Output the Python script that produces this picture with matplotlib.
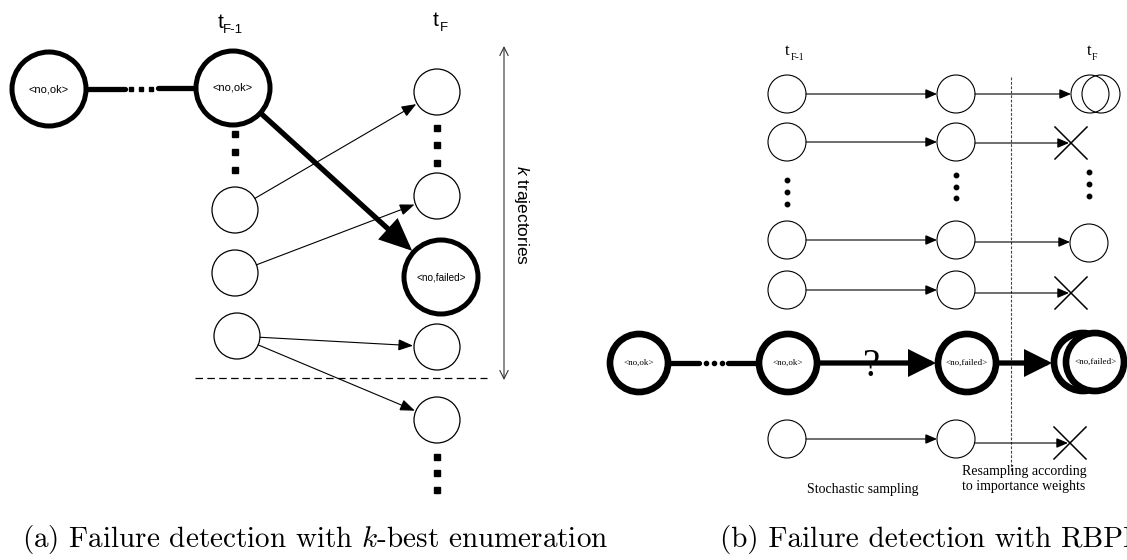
import numpy as np
import matplotlib.pyplot as plt
from matplotlib.patches import Circle, FancyArrowPatch

plt.rcParams['mathtext.fontset'] = 'custom'
plt.rcParams['mathtext.rm'] = 'Liberation Sans'
plt.rcParams['mathtext.it'] = 'Liberation Sans:italic'

SANS = 'Liberation Sans'
SERIF = 'Liberation Serif'

# ---- panel (a): k-best enumeration (pixel coordinates, y downwards) ----
a_bold_nodes = [(49, 89), (233, 88)]
a_bold_labels = ['<no,ok>', '<no,ok>']
a_failed_node = (441, 277)
a_left_nodes = [(235, 210), (235, 273), (237, 336)]
a_right_nodes = [(437, 92), (437, 196), (437, 347), (437, 420)]
a_edges = [(0, 0), (1, 1), (2, 2), (2, 3)]   # left node -> right node
a_left_dots_y = [134, 152, 170]
a_right_dots_y = [128, 145, 163]
a_bottom_dots_y = [457, 473, 490]

# ---- panel (b): RBPF ----
b_col_x = [787, 956]
b_rows_y = [94, 142, 240, 290, 439]
b_col3_circles = [(1090, 94), (1101, 94), (1089, 243)]
b_crosses = [(1071, 143), (1071, 293), (1070, 443)]
b_bold_nodes = [(639, 363), (788, 363), (967, 363)]
b_bold_labels = ['<no,ok>', '<no,ok>', '<no,failed>']
b_final_nodes = [(1083, 362), (1095, 362)]
b_dots_x = [787, 956, 1089]
b_dots_y = [[180, 192, 204], [175, 187, 198], [172, 184, 196]]


def edge(p, q, rp, rq):
    p, q = np.array(p, float), np.array(q, float)
    u = (q - p) / np.linalg.norm(q - p)
    return p + rp * u, q - rq * u


def arrow(ax, p, q, lw, hl, hw, color='black'):
    ax.add_patch(FancyArrowPatch(
        tuple(p), tuple(q),
        arrowstyle=f'-|>,head_length={hl},head_width={hw}',
        lw=lw, color=color, shrinkA=0, shrinkB=0, mutation_scale=1,
        joinstyle='miter', zorder=3))


fig = plt.figure(figsize=(11.27, 5.6), dpi=100)
ax = fig.add_axes([0, 0, 1, 1])
ax.set_xlim(0, 1127)
ax.set_ylim(560, 0)
ax.axis('off')

# ===== panel (a) =====
R_BIG, R_SMALL = 37, 23
for (x, y), lab in zip(a_bold_nodes, a_bold_labels):
    ax.add_patch(Circle((x, y), R_BIG, fill=False, lw=3.6, ec='black'))
    ax.text(x, y, lab, ha='center', va='center', fontsize=8, family=SANS)
ax.add_patch(Circle(a_failed_node, R_BIG, fill=False, lw=3.6, ec='black'))
ax.text(a_failed_node[0], a_failed_node[1] + 1, '<no,failed>', ha='center',
        va='center', fontsize=7.2, family=SANS)
for x, y in a_left_nodes + a_right_nodes:
    ax.add_patch(Circle((x, y), R_SMALL, fill=False, lw=0.9, ec='black'))

# bold chain with dots
(x0, y0), (x1, y1) = a_bold_nodes
ax.plot([x0 + R_BIG + 2, 125], [y0, y0], color='black', lw=3.8,
        solid_capstyle='round')
ax.plot([158, x1 - R_BIG - 2], [y1, y1], color='black', lw=3.8,
        solid_capstyle='round')
ax.plot([131, 141, 151], [88.5] * 3, 's', color='black', ms=3)

for ys, x in [(a_left_dots_y, 235), (a_right_dots_y, 437),
              (a_bottom_dots_y, 437)]:
    ax.plot([x] * len(ys), ys, 's', color='black', ms=5)

for i, j in a_edges:
    p, q = edge(a_left_nodes[i], a_right_nodes[j], R_SMALL, R_SMALL + 1)
    arrow(ax, p, q, 0.8, 9, 3.5)
p, q = edge(a_bold_nodes[1], a_failed_node, R_BIG + 2, R_BIG + 2)
arrow(ax, p, q, 3.8, 17, 7.5)

ax.plot([195, 487], [378, 378], color='black', lw=0.9, dashes=(6, 3.5))
ax.add_patch(FancyArrowPatch((504, 46), (504, 380), arrowstyle='<->,head_length=6,head_width=3',
                             mutation_scale=1, lw=0.8, color='#333333',
                             shrinkA=0, shrinkB=0))
ax.text(522, 215, r'$k$ trajectories', rotation=-90, ha='center', va='center',
        fontsize=12.5, family=SANS)

ax.text(221, 22, 't', fontsize=15, family=SANS, ha='center', va='center')
ax.text(233, 30, 'F-1', fontsize=9.5, family=SANS, ha='center', va='center')
ax.text(436, 20, 't', fontsize=15, family=SANS, ha='center', va='center')
ax.text(444, 28, 'F', fontsize=9.5, family=SANS, ha='center', va='center')

# ===== panel (b) =====
r = 19
for k, y in enumerate(b_rows_y):
    for x in b_col_x:
        ax.add_patch(Circle((x, y), r, fill=False, lw=0.8, ec='black'))
    arrow(ax, (b_col_x[0] + r, y), (b_col_x[1] - r, y), 0.8, 7, 3)
for x, y in b_col3_circles:
    ax.add_patch(Circle((x, y), r, fill=False, lw=0.8, ec='black',
                        fc='white', zorder=2))
# col2 -> col3 arrows
arrow(ax, (b_col_x[1] + r, b_rows_y[0]), (b_col3_circles[0][0] - r, b_rows_y[0]), 0.8, 7, 3)
arrow(ax, (b_col_x[1] + r, b_rows_y[2] + 2), (b_col3_circles[2][0] - r, b_rows_y[2] + 2), 0.8, 7, 3)
for cx, cy in b_crosses:
    arrow(ax, (b_col_x[1] + r, cy), (cx - 2, cy), 0.8, 7, 3)
    d = 16
    ax.plot([cx - d, cx + d], [cy - d, cy + d], color='black', lw=1.1)
    ax.plot([cx - d, cx + d], [cy + d, cy - d], color='black', lw=1.1)

for x, ys in zip(b_dots_x, b_dots_y):
    ax.plot([x] * len(ys), ys, 'o', color='black', ms=3.2)

ax.plot([1011, 1011], [77, 471], color='#444444', lw=0.8, dashes=(2.5, 1.5))

# bold row
RB = 29
for (x, y), lab in zip(b_bold_nodes, b_bold_labels):
    ax.add_patch(Circle((x, y), RB, fill=False, lw=4.8, ec='black'))
    ax.text(x, y, lab, ha='center', va='center', fontsize=6.5, family=SERIF)
for k, (x, y) in enumerate(b_final_nodes):
    ax.add_patch(Circle((x, y), RB, fill=True, fc='white', lw=4.8,
                        ec='black', zorder=4 + k))
ax.text(b_final_nodes[1][0] + 1, 362, '<no,failed>', ha='center', va='center',
        fontsize=6.5, family=SERIF, zorder=6)

(x0, y0), (x1, y1), (x2, y2) = b_bold_nodes
ax.plot([x0 + RB + 2, 699], [y0, y0], color='black', lw=3.8,
        solid_capstyle='round')
ax.plot([728, x1 - RB - 2], [y1, y1], color='black', lw=3.8,
        solid_capstyle='round')
ax.plot([706, 714, 722], [363] * 3, 'o', color='black', ms=3)
arrow(ax, (x1 + RB + 2, y1), (x2 - RB - 2, y2), 3.8, 14, 7)
arrow(ax, (x2 + RB + 2, y2), (b_final_nodes[0][0] - RB - 2, y2), 3.8, 14, 7)
ax.text(872, 367, '?', fontsize=28, family=SERIF, ha='center', va='center')

ax.text(787, 51, 't', fontsize=12, family=SERIF, ha='center', va='center')
ax.text(791, 58, 'F-1', fontsize=7, family=SERIF, ha='left', va='center')
ax.text(1089, 51, 't', fontsize=12, family=SERIF, ha='center', va='center')
ax.text(1092, 58, 'F', fontsize=7, family=SERIF, ha='left', va='center')

ax.text(863, 489, 'Stochastic sampling', fontsize=10, family=SERIF,
        ha='center', va='center')
ax.text(1024, 479, 'Resampling according\nto importance weights', fontsize=10,
        family=SERIF, ha='center', va='center', linespacing=1.2)

# captions
ax.text(22, 540, r'(a) Failure detection with $k$-best enumeration',
        fontsize=21, family='cmr10', math_fontfamily='cm', ha='left', va='center')
t = ax.text(720, 540, '(b) Failure detection with RBPF', fontsize=21,
            family='cmr10', ha='left', va='center')
t.set_clip_on(True)

fig.savefig('out.png', dpi=100)
